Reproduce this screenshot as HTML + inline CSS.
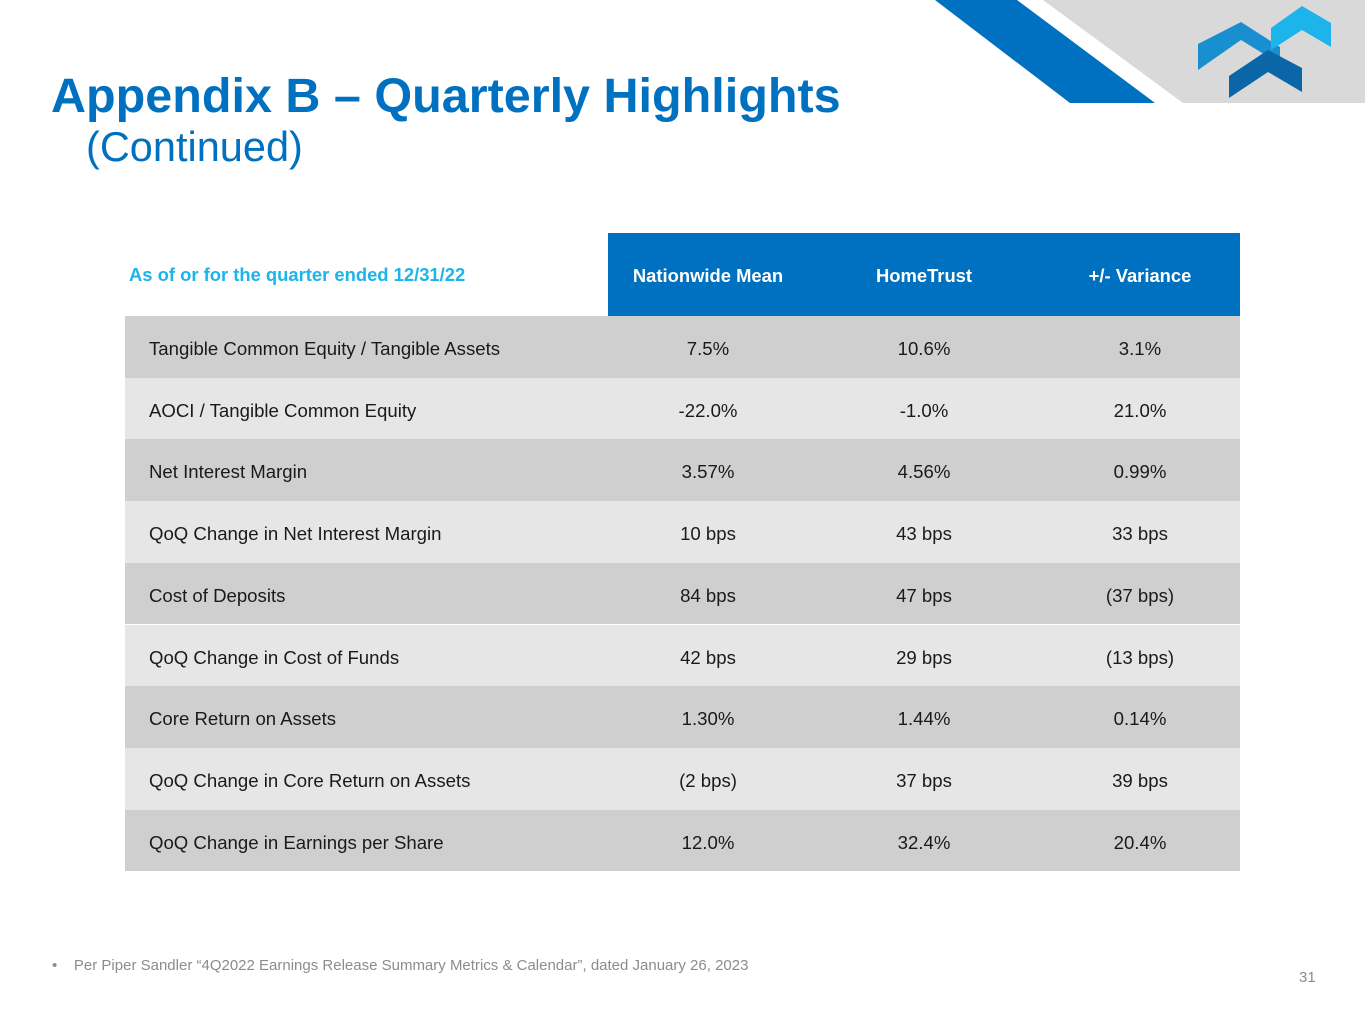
<!DOCTYPE html>
<html><head><meta charset="utf-8"><style>
body{margin:0;width:1365px;height:1024px;position:relative;background:#fff;font-family:"Liberation Sans",Arial,sans-serif;overflow:hidden}
.abs{position:absolute}
.row{position:absolute;left:125px;width:1115px;height:61.7px;font-size:18.6px;color:#1a1a1a}
.row span{position:absolute;top:2px;line-height:61.7px}
.c{width:200px;text-align:center}
</style></head><body>
<svg class="abs" style="left:0;top:0" width="1365" height="110">
<polygon points="1043,0 1365,0 1365,103 1183,103" fill="#d9d9d9"/>
<polygon points="935,0 1017,0 1155,103 1070,103" fill="#0070c0"/>
<polygon points="1198,44 1241,22 1280,47 1280,64 1241,40 1198,70" fill="#1a8fd0"/>
<polygon points="1271,28 1302,6 1331,23 1331,47 1302,30 1271,50" fill="#1cb4ea"/>
<polygon points="1229,76 1268,50 1302,68 1302,92 1268,72 1229,98" fill="#0a66a6"/>
</svg>
<div class="abs" style="left:51px;top:70px;font-size:48.5px;font-weight:bold;color:#0070c0;line-height:52px">Appendix B – Quarterly Highlights</div>
<div class="abs" style="left:86px;top:124px;font-size:41.5px;color:#0070c0;line-height:46px">(Continued)</div>

<div class="abs" style="left:129px;top:264px;font-size:18.4px;font-weight:bold;color:#1cb4ea">As of or for the quarter ended 12/31/22</div>
<div class="abs" style="left:608px;top:233px;width:632px;height:83px;background:#0070c0;color:#fff;font-size:18.4px;font-weight:bold">
<span class="abs c" style="left:0;top:1px;line-height:83px">Nationwide Mean</span>
<span class="abs c" style="left:216px;top:1px;line-height:83px">HomeTrust</span>
<span class="abs c" style="left:432px;top:1px;line-height:83px">+/- Variance</span>
</div>
<div id="rows"></div>
<div class="abs" style="left:52px;top:957px;font-size:15px;color:#8c8c8c">•&nbsp;&nbsp;&nbsp;&nbsp;Per Piper Sandler “4Q2022 Earnings Release Summary Metrics &amp; Calendar”, dated January 26, 2023</div>
<div class="abs" style="left:1299px;top:969px;font-size:15px;color:#8c8c8c">31</div>
<script>
const labels=["Tangible Common Equity / Tangible Assets","AOCI / Tangible Common Equity","Net Interest Margin","QoQ Change in Net Interest Margin","Cost of Deposits","QoQ Change in Cost of Funds","Core Return on Assets","QoQ Change in Core Return on Assets","QoQ Change in Earnings per Share"];
const nationwide=["7.5%","-22.0%","3.57%","10 bps","84 bps","42 bps","1.30%","(2 bps)","12.0%"];
const hometrust=["10.6%","-1.0%","4.56%","43 bps","47 bps","29 bps","1.44%","37 bps","32.4%"];
const variance=["3.1%","21.0%","0.99%","33 bps","(37 bps)","(13 bps)","0.14%","39 bps","20.4%"];
const cont=document.getElementById('rows');
labels.forEach((l,i)=>{
const r=document.createElement('div');
r.className='row';
r.style.top=(316+i*61.7)+'px';
r.style.background=i%2?'#e6e6e6':'#d0cfd0';


r.innerHTML='<span style="left:24px">'+l+'</span><span class="c" style="left:483px">'+nationwide[i]+'</span><span class="c" style="left:699px">'+hometrust[i]+'</span><span class="c" style="left:915px">'+variance[i]+'</span>';
cont.appendChild(r);
});
</script>
</body></html>
